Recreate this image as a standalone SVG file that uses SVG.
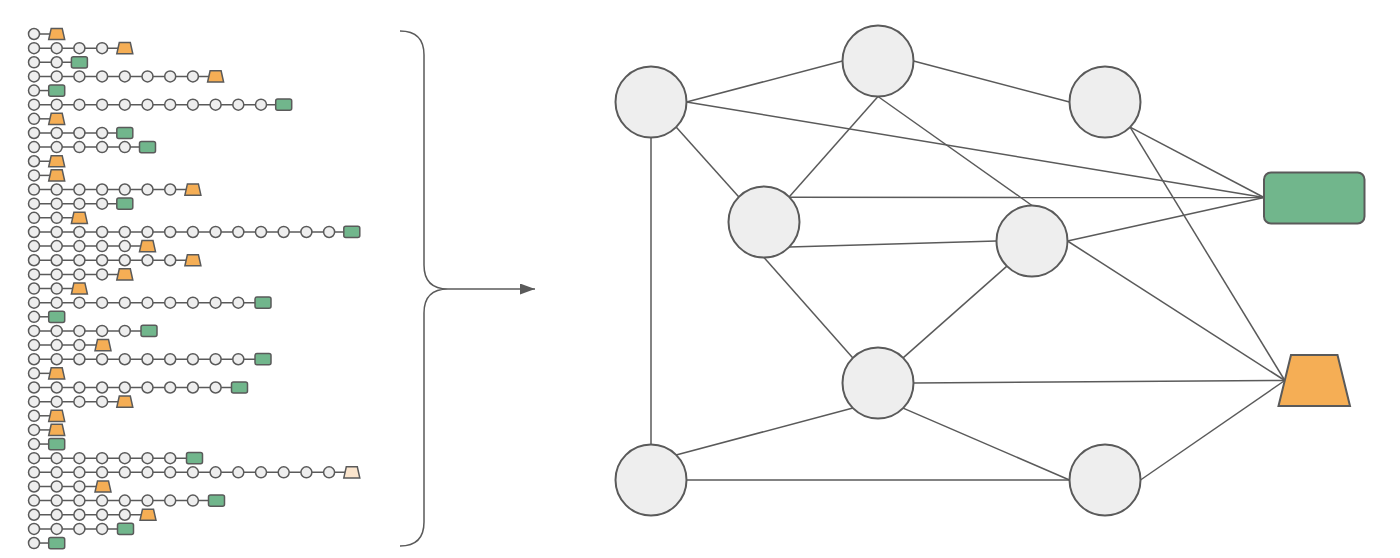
<svg xmlns="http://www.w3.org/2000/svg" xmlns:xlink="http://www.w3.org/1999/xlink" width="1400" height="558" viewBox="0 0 1400 558">
<style>
.ln{stroke:#5a5a5a;stroke-width:1.5;fill:none}
.sc{fill:#eeeeee;stroke:#5a5a5a;stroke-width:1.5}
.gr{fill:#71b68c;stroke:#5a5a5a;stroke-width:1.5}
.or{fill:#f5ae55;stroke:#5a5a5a;stroke-width:1.5}
.pe{fill:#fbe5cd;stroke:#5a5a5a;stroke-width:1.5}
.bc{fill:#eeeeee;stroke:#5a5a5a;stroke-width:2}
.big-gr{fill:#71b68c;stroke:#5a5a5a;stroke-width:2}
.big-or{fill:#f5ae55;stroke:#5a5a5a;stroke-width:2}
.cn{stroke:#5a5a5a;stroke-width:1.5;fill:none}
</style>
<defs>
<circle id="c" r="5.5" class="sc"/>
<rect id="r" x="-8" y="-5.6" width="16" height="11.2" rx="2" class="gr"/>
<polygon id="t" points="-5.5,-5.6 5.5,-5.6 8,5.6 -8,5.6" class="or"/>
<polygon id="tp" points="-5.5,-5.6 5.5,-5.6 8,5.6 -8,5.6" class="pe"/>
<marker id="ah" markerWidth="15" markerHeight="11" refX="15" refY="5.5" orient="auto" markerUnits="userSpaceOnUse">
<polygon points="0,0 15,5.5 0,11" fill="#5a5a5a"/>
</marker>
</defs>

<g id="chains">
<g id="row1" transform="translate(0,34)"><line class="ln" x1="34" x2="56.7"/><use href="#c" x="34"/><use href="#t" x="56.7"/></g>
<g id="row2" transform="translate(0,48.14)"><line class="ln" x1="34" x2="124.8"/><use href="#c" x="34"/><use href="#c" x="56.7"/><use href="#c" x="79.4"/><use href="#c" x="102.1"/><use href="#t" x="124.8"/></g>
<g id="row3" transform="translate(0,62.28)"><line class="ln" x1="34" x2="79.4"/><use href="#c" x="34"/><use href="#c" x="56.7"/><use href="#r" x="79.4"/></g>
<g id="row4" transform="translate(0,76.42)"><line class="ln" x1="34" x2="215.6"/><use href="#c" x="34"/><use href="#c" x="56.7"/><use href="#c" x="79.4"/><use href="#c" x="102.1"/><use href="#c" x="124.8"/><use href="#c" x="147.5"/><use href="#c" x="170.2"/><use href="#c" x="192.9"/><use href="#t" x="215.6"/></g>
<g id="row5" transform="translate(0,90.56)"><line class="ln" x1="34" x2="56.7"/><use href="#c" x="34"/><use href="#r" x="56.7"/></g>
<g id="row6" transform="translate(0,104.7)"><line class="ln" x1="34" x2="283.7"/><use href="#c" x="34"/><use href="#c" x="56.7"/><use href="#c" x="79.4"/><use href="#c" x="102.1"/><use href="#c" x="124.8"/><use href="#c" x="147.5"/><use href="#c" x="170.2"/><use href="#c" x="192.9"/><use href="#c" x="215.6"/><use href="#c" x="238.3"/><use href="#c" x="261"/><use href="#r" x="283.7"/></g>
<g id="row7" transform="translate(0,118.84)"><line class="ln" x1="34" x2="56.7"/><use href="#c" x="34"/><use href="#t" x="56.7"/></g>
<g id="row8" transform="translate(0,132.98)"><line class="ln" x1="34" x2="124.8"/><use href="#c" x="34"/><use href="#c" x="56.7"/><use href="#c" x="79.4"/><use href="#c" x="102.1"/><use href="#r" x="124.8"/></g>
<g id="row9" transform="translate(0,147.12)"><line class="ln" x1="34" x2="147.5"/><use href="#c" x="34"/><use href="#c" x="56.7"/><use href="#c" x="79.4"/><use href="#c" x="102.1"/><use href="#c" x="124.8"/><use href="#r" x="147.5"/></g>
<g id="row10" transform="translate(0,161.26)"><line class="ln" x1="34" x2="56.7"/><use href="#c" x="34"/><use href="#t" x="56.7"/></g>
<g id="row11" transform="translate(0,175.4)"><line class="ln" x1="34" x2="56.7"/><use href="#c" x="34"/><use href="#t" x="56.7"/></g>
<g id="row12" transform="translate(0,189.54)"><line class="ln" x1="34" x2="192.9"/><use href="#c" x="34"/><use href="#c" x="56.7"/><use href="#c" x="79.4"/><use href="#c" x="102.1"/><use href="#c" x="124.8"/><use href="#c" x="147.5"/><use href="#c" x="170.2"/><use href="#t" x="192.9"/></g>
<g id="row13" transform="translate(0,203.68)"><line class="ln" x1="34" x2="124.8"/><use href="#c" x="34"/><use href="#c" x="56.7"/><use href="#c" x="79.4"/><use href="#c" x="102.1"/><use href="#r" x="124.8"/></g>
<g id="row14" transform="translate(0,217.82)"><line class="ln" x1="34" x2="79.4"/><use href="#c" x="34"/><use href="#c" x="56.7"/><use href="#t" x="79.4"/></g>
<g id="row15" transform="translate(0,231.96)"><line class="ln" x1="34" x2="351.8"/><use href="#c" x="34"/><use href="#c" x="56.7"/><use href="#c" x="79.4"/><use href="#c" x="102.1"/><use href="#c" x="124.8"/><use href="#c" x="147.5"/><use href="#c" x="170.2"/><use href="#c" x="192.9"/><use href="#c" x="215.6"/><use href="#c" x="238.3"/><use href="#c" x="261"/><use href="#c" x="283.7"/><use href="#c" x="306.4"/><use href="#c" x="329.1"/><use href="#r" x="351.8"/></g>
<g id="row16" transform="translate(0,246.1)"><line class="ln" x1="34" x2="147.5"/><use href="#c" x="34"/><use href="#c" x="56.7"/><use href="#c" x="79.4"/><use href="#c" x="102.1"/><use href="#c" x="124.8"/><use href="#t" x="147.5"/></g>
<g id="row17" transform="translate(0,260.24)"><line class="ln" x1="34" x2="192.9"/><use href="#c" x="34"/><use href="#c" x="56.7"/><use href="#c" x="79.4"/><use href="#c" x="102.1"/><use href="#c" x="124.8"/><use href="#c" x="147.5"/><use href="#c" x="170.2"/><use href="#t" x="192.9"/></g>
<g id="row18" transform="translate(0,274.38)"><line class="ln" x1="34" x2="124.8"/><use href="#c" x="34"/><use href="#c" x="56.7"/><use href="#c" x="79.4"/><use href="#c" x="102.1"/><use href="#t" x="124.8"/></g>
<g id="row19" transform="translate(0,288.52)"><line class="ln" x1="34" x2="79.4"/><use href="#c" x="34"/><use href="#c" x="56.7"/><use href="#t" x="79.4"/></g>
<g id="row20" transform="translate(0,302.66)"><line class="ln" x1="34" x2="261"/><use href="#c" x="34"/><use href="#c" x="56.7"/><use href="#c" x="79.4"/><use href="#c" x="102.1"/><use href="#c" x="124.8"/><use href="#c" x="147.5"/><use href="#c" x="170.2"/><use href="#c" x="192.9"/><use href="#c" x="215.6"/><use href="#c" x="238.3"/><use href="#r" x="263"/></g>
<g id="row21" transform="translate(0,316.8)"><line class="ln" x1="34" x2="56.7"/><use href="#c" x="34"/><use href="#r" x="56.7"/></g>
<g id="row22" transform="translate(0,330.94)"><line class="ln" x1="34" x2="147.5"/><use href="#c" x="34"/><use href="#c" x="56.7"/><use href="#c" x="79.4"/><use href="#c" x="102.1"/><use href="#c" x="124.8"/><use href="#r" x="149"/></g>
<g id="row23" transform="translate(0,345.08)"><line class="ln" x1="34" x2="102.1"/><use href="#c" x="34"/><use href="#c" x="56.7"/><use href="#c" x="79.4"/><use href="#t" x="103"/></g>
<g id="row24" transform="translate(0,359.22)"><line class="ln" x1="34" x2="261"/><use href="#c" x="34"/><use href="#c" x="56.7"/><use href="#c" x="79.4"/><use href="#c" x="102.1"/><use href="#c" x="124.8"/><use href="#c" x="147.5"/><use href="#c" x="170.2"/><use href="#c" x="192.9"/><use href="#c" x="215.6"/><use href="#c" x="238.3"/><use href="#r" x="263"/></g>
<g id="row25" transform="translate(0,373.36)"><line class="ln" x1="34" x2="56.7"/><use href="#c" x="34"/><use href="#t" x="56.7"/></g>
<g id="row26" transform="translate(0,387.5)"><line class="ln" x1="34" x2="238.3"/><use href="#c" x="34"/><use href="#c" x="56.7"/><use href="#c" x="79.4"/><use href="#c" x="102.1"/><use href="#c" x="124.8"/><use href="#c" x="147.5"/><use href="#c" x="170.2"/><use href="#c" x="192.9"/><use href="#c" x="215.6"/><use href="#r" x="239.5"/></g>
<g id="row27" transform="translate(0,401.64)"><line class="ln" x1="34" x2="124.8"/><use href="#c" x="34"/><use href="#c" x="56.7"/><use href="#c" x="79.4"/><use href="#c" x="102.1"/><use href="#t" x="124.8"/></g>
<g id="row28" transform="translate(0,415.78)"><line class="ln" x1="34" x2="56.7"/><use href="#c" x="34"/><use href="#t" x="56.7"/></g>
<g id="row29" transform="translate(0,429.92)"><line class="ln" x1="34" x2="56.7"/><use href="#c" x="34"/><use href="#t" x="56.7"/></g>
<g id="row30" transform="translate(0,444.06)"><line class="ln" x1="34" x2="56.7"/><use href="#c" x="34"/><use href="#r" x="56.7"/></g>
<g id="row31" transform="translate(0,458.2)"><line class="ln" x1="34" x2="192.9"/><use href="#c" x="34"/><use href="#c" x="56.7"/><use href="#c" x="79.4"/><use href="#c" x="102.1"/><use href="#c" x="124.8"/><use href="#c" x="147.5"/><use href="#c" x="170.2"/><use href="#r" x="194.5"/></g>
<g id="row32" transform="translate(0,472.34)"><line class="ln" x1="34" x2="351.8"/><use href="#c" x="34"/><use href="#c" x="56.7"/><use href="#c" x="79.4"/><use href="#c" x="102.1"/><use href="#c" x="124.8"/><use href="#c" x="147.5"/><use href="#c" x="170.2"/><use href="#c" x="192.9"/><use href="#c" x="215.6"/><use href="#c" x="238.3"/><use href="#c" x="261"/><use href="#c" x="283.7"/><use href="#c" x="306.4"/><use href="#c" x="329.1"/><use href="#tp" x="351.8"/></g>
<g id="row33" transform="translate(0,486.48)"><line class="ln" x1="34" x2="102.1"/><use href="#c" x="34"/><use href="#c" x="56.7"/><use href="#c" x="79.4"/><use href="#t" x="103"/></g>
<g id="row34" transform="translate(0,500.62)"><line class="ln" x1="34" x2="215.6"/><use href="#c" x="34"/><use href="#c" x="56.7"/><use href="#c" x="79.4"/><use href="#c" x="102.1"/><use href="#c" x="124.8"/><use href="#c" x="147.5"/><use href="#c" x="170.2"/><use href="#c" x="192.9"/><use href="#r" x="216.5"/></g>
<g id="row35" transform="translate(0,514.76)"><line class="ln" x1="34" x2="147.5"/><use href="#c" x="34"/><use href="#c" x="56.7"/><use href="#c" x="79.4"/><use href="#c" x="102.1"/><use href="#c" x="124.8"/><use href="#t" x="148"/></g>
<g id="row36" transform="translate(0,528.9)"><line class="ln" x1="34" x2="124.8"/><use href="#c" x="34"/><use href="#c" x="56.7"/><use href="#c" x="79.4"/><use href="#c" x="102.1"/><use href="#r" x="125.5"/></g>
<g id="row37" transform="translate(0,543.04)"><line class="ln" x1="34" x2="56.7"/><use href="#c" x="34"/><use href="#r" x="56.7"/></g>
</g>

<g id="brace">
<path class="ln" d="M400,31 Q424,31 424,55 L424,265 Q424,289 448,289 Q424,289 424,313 L424,522 Q424,546 400,546"/>
<line class="ln" x1="448" y1="289" x2="535" y2="289" marker-end="url(#ah)"/>
</g>

<g id="connectors">
<line class="cn" x1="686.5" y1="102" x2="842.5" y2="61"/>
<line class="cn" x1="913.5" y1="61" x2="1069.5" y2="102"/>
<line class="cn" x1="686.5" y1="102" x2="1264" y2="197.5"/>
<line class="cn" x1="676.1" y1="127.1" x2="738.9" y2="196.9"/>
<line class="cn" x1="651" y1="137.5" x2="651" y2="444.5"/>
<line class="cn" x1="878" y1="96.5" x2="789.1" y2="196.9"/>
<line class="cn" x1="878" y1="96.5" x2="1032" y2="205.5"/>
<line class="cn" x1="1130.1" y1="127.1" x2="1264" y2="197.5"/>
<line class="cn" x1="1130.1" y1="127.1" x2="1284.8" y2="380.5"/>
<line class="cn" x1="789.1" y1="197.3" x2="1264" y2="197.5"/>
<line class="cn" x1="789.1" y1="247.1" x2="996.5" y2="241"/>
<line class="cn" x1="764" y1="257.5" x2="852.9" y2="357.9"/>
<line class="cn" x1="1067.5" y1="241" x2="1264" y2="197.5"/>
<line class="cn" x1="1067.5" y1="241" x2="1284.8" y2="380.5"/>
<line class="cn" x1="1006.9" y1="266.1" x2="903.1" y2="357.9"/>
<line class="cn" x1="913.5" y1="383" x2="1284.8" y2="380.5"/>
<line class="cn" x1="852.9" y1="408.1" x2="676.1" y2="454.9"/>
<line class="cn" x1="903.1" y1="408.1" x2="1069.5" y2="480"/>
<line class="cn" x1="686.5" y1="480" x2="1069.5" y2="480"/>
<line class="cn" x1="1140.5" y1="480" x2="1284.8" y2="380.5"/>
</g>

<g id="nodeA"><circle class="bc" cx="651" cy="102" r="35.5"/></g>
<g id="nodeB"><circle class="bc" cx="878" cy="61" r="35.5"/></g>
<g id="nodeC"><circle class="bc" cx="1105" cy="102" r="35.5"/></g>
<g id="nodeD"><circle class="bc" cx="764" cy="222" r="35.5"/></g>
<g id="nodeE"><circle class="bc" cx="1032" cy="241" r="35.5"/></g>
<g id="nodeF"><circle class="bc" cx="878" cy="383" r="35.5"/></g>
<g id="nodeG"><circle class="bc" cx="651" cy="480" r="35.5"/></g>
<g id="nodeH"><circle class="bc" cx="1105" cy="480" r="35.5"/></g>
<g id="nodeGreen"><rect class="big-gr" x="1264" y="172.5" width="100.5" height="51" rx="7"/></g>
<g id="nodeOrange"><polygon class="big-or" points="1291,355 1337.5,355 1350,406 1278.5,406"/></g>
</svg>
